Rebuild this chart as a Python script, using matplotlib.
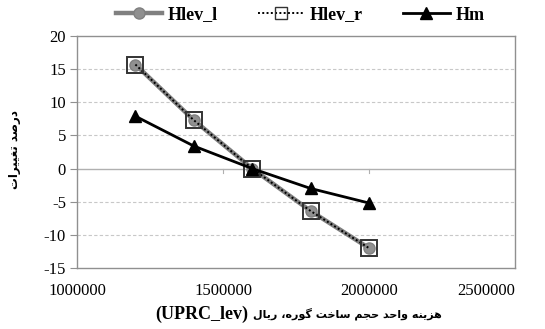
import matplotlib
matplotlib.use("Agg")
import matplotlib.pyplot as plt
from matplotlib.lines import Line2D

x_vals = [1200000, 1400000, 1600000, 1800000, 2000000]
hlev_l = [15.7, 7.3, 0.0, -6.4, -12.0]
hlev_r = [15.7, 7.3, 0.0, -6.4, -12.0]
hm = [7.9, 3.4, 0.0, -3.0, -5.2]
x_ticks = [1000000, 1500000, 2000000, 2500000]
y_ticks = [20, 15, 10, 5, 0, -5, -10, -15]
series_names = ["Hlev_l", "Hlev_r", "Hm"]

# Persian labels in visual (left-to-right) order with presentation forms
ylabel_txt = ("\uFE95\uFE8D\uFEAE\uFBFF\uFBFF\uFED0\uFE97" + " " +
              "\uFEAA\uFEBB\uFEAD\uFEA9")
persian_logical = [
    "\uFEEB\uFEB0\uFBFE\uFEE8\uFEEA",   # هزینه
    "\uFEED\uFE8D\uFEA3\uFEAA",         # واحد
    "\uFEA3\uFEA0\uFEE2",               # حجم
    "\uFEB3\uFE8E\uFEA7\uFE96",         # ساخت
    "\uFB94\uFEEE\uFEAD\uFEE9\u060C",   # گوره،
    "\uFEAD\uFBFE\uFE8E\uFEDD",         # ریال
]
xlabel_latin = "(UPRC_lev)"
xlabel_persian = " ".join(persian_logical)[::-1]

serif = ["Liberation Serif", "DejaVu Serif"]
W, H = 545, 329

fig = plt.figure(figsize=(5.45, 3.29), dpi=100)
ax = fig.add_axes([77/W, 1 - 268/H, (515-77)/W, (268-36)/H])

ax.set_xlim(1000000, 2500000)
ax.set_ylim(-15, 20)

for y in y_ticks:
    if y == 0:
        ax.axhline(y, color="#b0b0b0", lw=1.0, zorder=1)
    elif y not in (20, -15):
        ax.axhline(y, color="#c8c8c8", lw=0.8, ls=(0, (3, 2)), zorder=1)
# small tick marks on the zero line
for xt in x_ticks[1:-1]:
    ax.plot([xt, xt], [0, -0.6], color="#b0b0b0", lw=0.8, zorder=1)

ax.plot(x_vals, hlev_l, color="#808080", lw=3.2, marker="o", ms=8,
        mfc="#909090", mec="#808080", zorder=3)
ax.plot(x_vals, hlev_r, color="black", lw=1.4, ls=(0, (1, 1.2)), marker="s", ms=12,
        mfc="none", mec="#333333", mew=1.4, zorder=4)
ax.plot(x_vals, hm, color="black", lw=2.0, marker="^", ms=8,
        mfc="black", mec="black", zorder=5)

for s in ax.spines.values():
    s.set_color("#909090")
    s.set_linewidth(1.0)

ax.set_yticks(y_ticks)
ax.set_yticklabels([str(v) for v in y_ticks], family=serif, fontsize=12)
ax.set_xticks(x_ticks)
ax.set_xticklabels([str(v) for v in x_ticks], family=serif, fontsize=12)
ax.tick_params(axis="y", direction="out", length=5, color="#909090", pad=3)
ax.tick_params(axis="x", length=0, pad=11)
labs = ax.get_xticklabels()
labs[-1].set_horizontalalignment("right")
labs[-1].set_x(2500000)

fig.text(15/W, 1 - 150/H, ylabel_txt, family="DejaVu Sans", fontsize=8.5,
         fontweight="bold", rotation=90, ha="center", va="center")
fig.text(248/W, 1 - 314/H, xlabel_latin, family=serif, fontsize=13,
         fontweight="bold", ha="right", va="center")
fig.text(253/W, 1 - 314/H, xlabel_persian, family="DejaVu Sans", fontsize=8,
         fontweight="bold", ha="left", va="center")

handles = [
    Line2D([], [], color="#808080", lw=3.2, marker="o", ms=8, mfc="#909090", mec="#808080"),
    Line2D([], [], color="black", lw=1.4, ls=(0, (1, 1.2)), marker="s", ms=8,
           mfc="none", mec="#333333", mew=1.0),
    Line2D([], [], color="black", lw=2.0, marker="^", ms=8, mfc="black", mec="black"),
]
fig.legend(handles, series_names, loc="center", bbox_to_anchor=(300/W, 1 - 15/H), ncol=3,
           frameon=False, prop={"family": serif, "weight": "bold", "size": 13},
           handlelength=2.6, columnspacing=2.2, handletextpad=0.3)

fig.savefig("out.png", dpi=100)
